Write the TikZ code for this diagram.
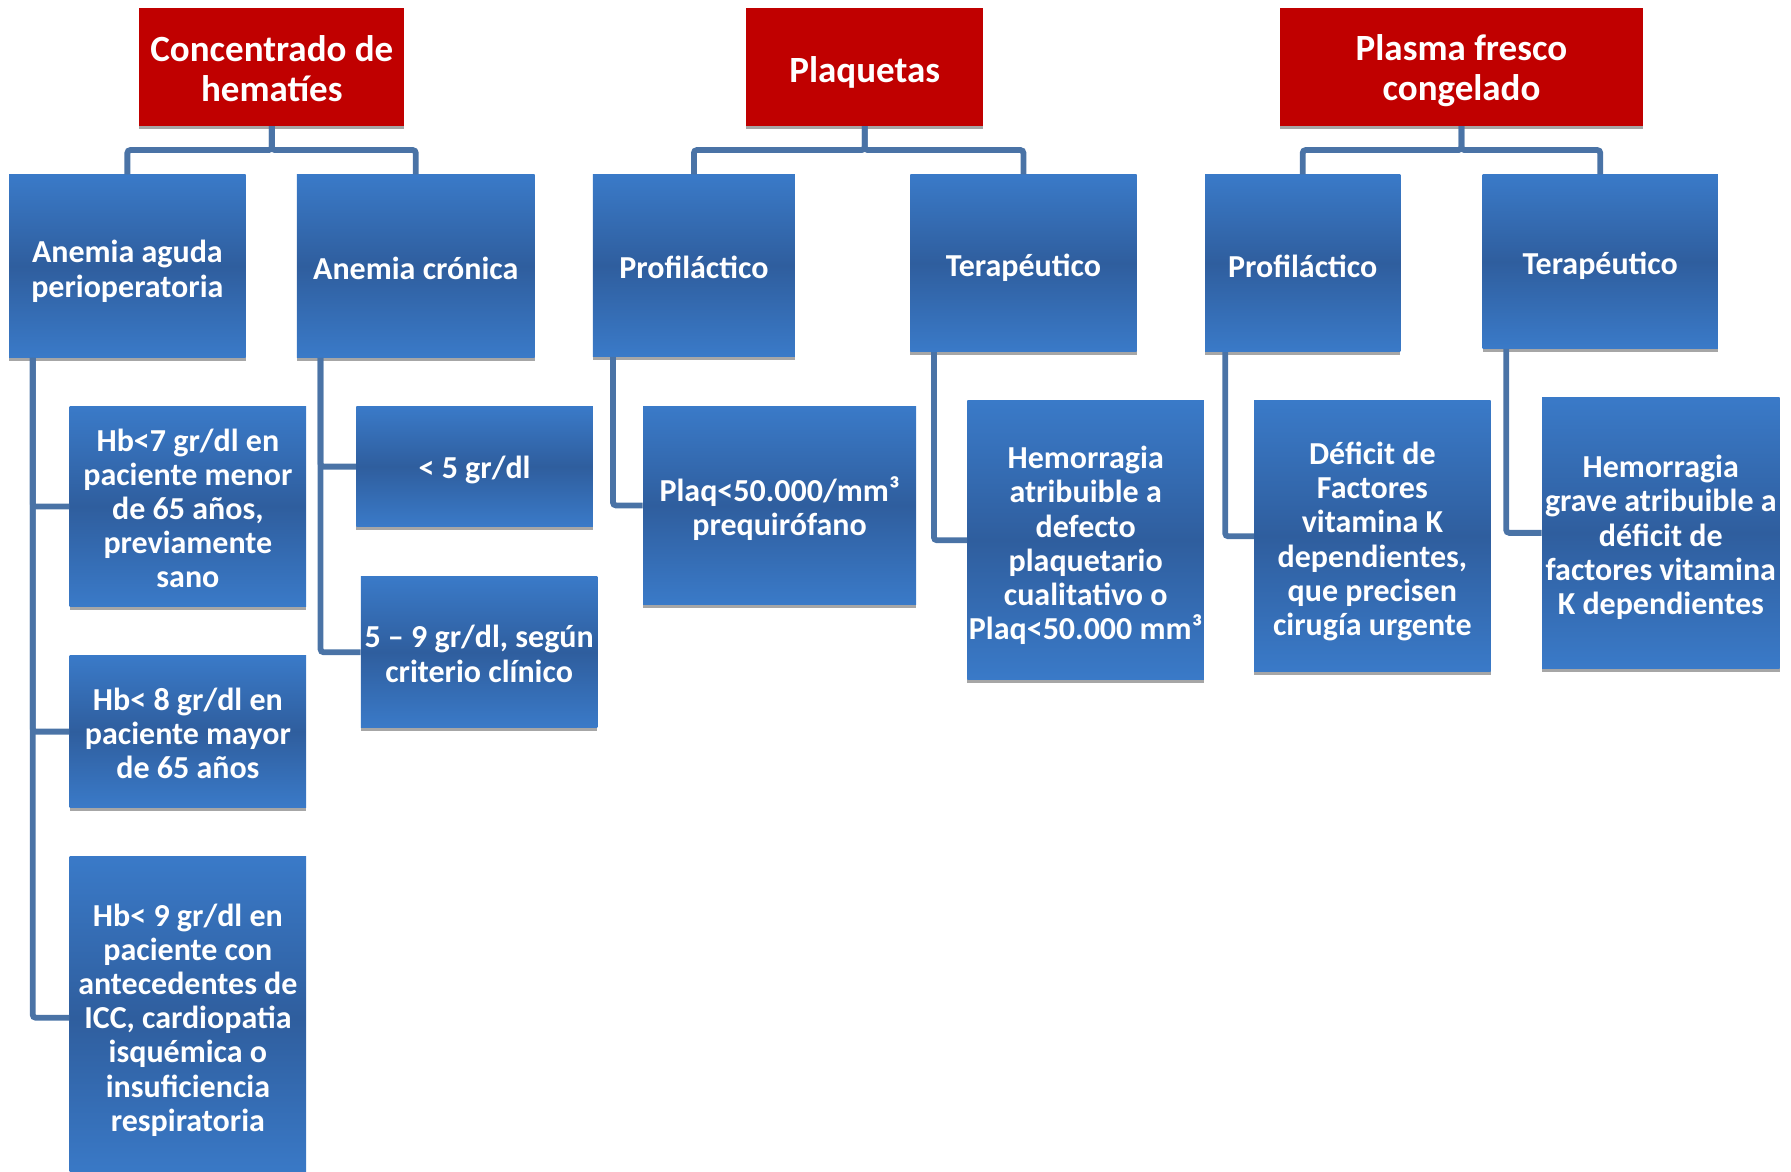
\documentclass[tikz,border=0pt]{standalone}
\usepackage{fontspec}
\setmainfont{Carlito}
\usetikzlibrary{calc,shadows}
\definecolor{hdred}{RGB}{192,0,0}
\definecolor{bxlight}{RGB}{58,122,200}
\definecolor{bxdark}{RGB}{47,94,158}
\definecolor{cnblue}{RGB}{74,115,166}
\definecolor{shgray}{RGB}{166,166,166}
\def\uu{0.5711pt}
\tikzset{
  x=0.5711pt, y=-0.5711pt,
  sz/.style 2 args={minimum width=#1*\uu, minimum height=#2*\uu},
  shd/.style={drop shadow={shadow xshift=0pt, shadow yshift=-1.8pt, fill=shgray, opacity=1}},
  hdbox/.style={shd, fill=hdred, inner sep=0pt},
  hdboxtxt/.style={inner sep=0pt, align=center, text=white,
    font=\fontsize{18.5}{20}\selectfont\bfseries},
  bluebox/.style={shd, top color=bxlight, bottom color=bxlight, middle color=bxdark, inner sep=0pt},
  blueboxtxt/.style={inner sep=0pt, align=center, text=white,
    font=\fontsize{16}{17.1}\selectfont\bfseries},
  conn/.style={draw=cnblue, line width=2.9pt, rounded corners=1.5pt}
}
% #1 name, #2 style, #3 centre, #4 width, #5 height, #6 text shift, #7 text
\newcommand\mybox[7]{%
  \node[#2, sz={#4}{#5}] (#1) at (#3) {};
  \node[#2txt] (#1t) at ([yshift=-#6*\uu]#1.center) {#7};}
\begin{document}
\begin{tikzpicture}
\useasboundingbox (0,0) rectangle (1568,1026);
% headers
\mybox{H1}{hdbox}{238,58.5}{232}{103}{2}{Concentrado de\\hematíes}
\mybox{H2}{hdbox}{757,58.5}{208}{103}{5}{Plaquetas}
\mybox{H3}{hdbox}{1279.5,58.5}{317}{103}{3.5}{Plasma fresco\\congelado}
% level 2
\mybox{A1}{bluebox}{111.5,233}{207}{160}{4.5}{Anemia aguda\\perioperatoria}
\mybox{A2}{bluebox}{364,233}{208}{160}{2}{Anemia crónica}
\mybox{P1}{bluebox}{607.5,232.5}{177}{159}{2}{Profiláctico}
\mybox{P2}{bluebox}{896,230.5}{198}{155}{4}{Terapéutico}
\mybox{F1}{bluebox}{1140.5,230.5}{171}{155}{3}{Profiláctico}
\mybox{F2}{bluebox}{1401,229}{206}{152}{4}{Terapéutico}
% level 3
\mybox{B1}{bluebox}{164.5,443.5}{207}{175}{1.5}{Hb<7 gr/dl en\\paciente menor\\de 65 años,\\previamente\\sano}
\mybox{B2}{bluebox}{164.5,640.5}{207}{133}{1.5}{Hb< 8 gr/dl en\\paciente mayor\\de 65 años}
\mybox{B3}{bluebox}{164.5,891}{207}{282}{2}{Hb< 9 gr/dl en\\paciente con\\antecedentes de\\ICC, cardiopatia\\isquémica o\\insuficiencia\\respiratoria}
\mybox{C1}{bluebox}{415.5,408.5}{207}{105}{3}{< 5 gr/dl}
\mybox{C2}{bluebox}{419.5,571}{207}{132}{1.5}{5 – 9 gr/dl, según\\criterio clínico}
\mybox{D1}{bluebox}{682.5,442.5}{239}{173}{3}{Plaq<50.000/mm³\\prequirófano}
\mybox{D2}{bluebox}{950.5,473}{207}{244}{4.5}{Hemorragia\\atribuible a\\defecto\\plaquetario\\cualitativo o\\Plaq<50.000 mm³}
\mybox{E1}{bluebox}{1201.5,469.5}{207}{237}{4.5}{Déficit de\\Factores\\vitamina K\\dependientes,\\que precisen\\cirugía urgente}
\mybox{E2}{bluebox}{1454,466.5}{208}{237}{4}{Hemorragia\\grave atribuible a\\déficit de\\factores vitamina\\K dependientes}
% connectors level 1-2
\draw[conn] (H1.south) -- ++(0,21) -| (A1.north);
\draw[conn] (H1.south) -- ++(0,21) -| (A2.north);
\draw[conn] (H2.south) -- ++(0,21) -| (P1.north);
\draw[conn] (H2.south) -- ++(0,21) -| (P2.north);
\draw[conn] (H3.south) -- ++(0,21) -| (F1.north);
\draw[conn] (H3.south) -- ++(0,21) -| (F2.north);
% connectors level 2-3
\draw[conn] ($(A1.south west)+(21,0)$) |- (B1.west);
\draw[conn] ($(A1.south west)+(21,0)$) |- (B2.west);
\draw[conn] ($(A1.south west)+(21,0)$) |- (B3.west);
\draw[conn] ($(A2.south west)+(21,0)$) |- (C1.west);
\draw[conn] ($(A2.south west)+(21,0)$) |- (C2.west);
\draw[conn] ($(P1.south west)+(18,0)$) |- (D1.west);
\draw[conn] ($(P2.south west)+(21,0)$) |- (D2.west);
\draw[conn] ($(F1.south west)+(18,0)$) |- (E1.west);
\draw[conn] ($(F2.south west)+(21,0)$) |- (E2.west);
\end{tikzpicture}
\end{document}
